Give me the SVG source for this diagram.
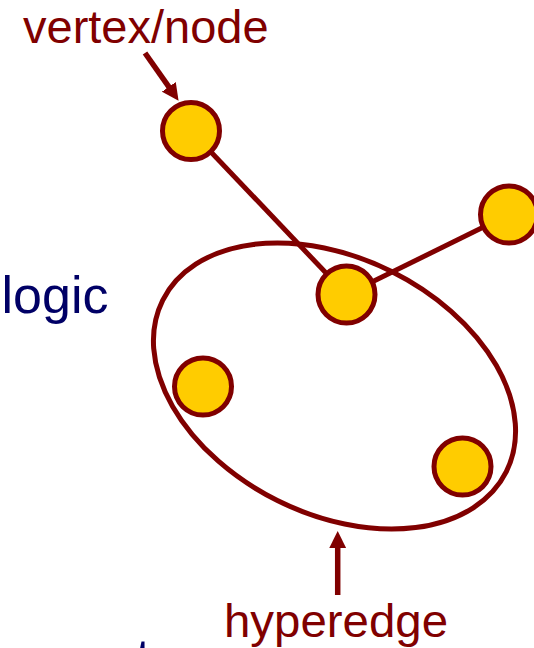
<svg xmlns="http://www.w3.org/2000/svg" width="534" height="648" viewBox="0 0 534 648">
<style>
.lbl{font-family:"Liberation Sans",Arial,sans-serif;fill:#800000;font-size:47px}
.blue{font-family:"Liberation Sans",Arial,sans-serif;fill:#000066;font-size:52px}
.edge{stroke:#800000;stroke-width:5;fill:none}
.arrow{stroke:#800000;stroke-width:5.5;fill:none}
.node{fill:#FFCC00;stroke:#800000;stroke-width:5}
</style>
<defs>
<marker id="head" markerUnits="userSpaceOnUse" markerWidth="17" markerHeight="17" refX="1" refY="8" orient="auto" viewBox="0 0 16 16">
<path d="M0,0 L16,8 L0,16 z" fill="#800000"/>
</marker>
</defs>
<rect width="534" height="648" fill="#ffffff"/>
<g id="hyperedge-ellipse">
<ellipse cx="334.5" cy="386" rx="192" ry="128" transform="rotate(26.5 334.5 386)" class="edge" stroke-width="4.5"/>
</g>
<g id="connectors">
<line x1="191" y1="131" x2="346.5" y2="294.5" class="edge"/>
<line x1="346.5" y1="294.5" x2="509" y2="214.5" class="edge"/>
<line x1="145" y1="53" x2="169.4" y2="87.7" class="arrow" marker-end="url(#head)"/>
<line x1="337.7" y1="595" x2="337.7" y2="547" class="arrow" marker-end="url(#head)"/>
</g>
<g id="node-a"><circle cx="191" cy="131" r="28.5" class="node"/></g>
<g id="node-b"><circle cx="509" cy="214.5" r="28.5" class="node"/></g>
<g id="node-c"><circle cx="346.5" cy="294.5" r="28.5" class="node"/></g>
<g id="node-d"><circle cx="203" cy="386.5" r="28.5" class="node"/></g>
<g id="node-e"><circle cx="462.5" cy="466.5" r="28.5" class="node"/></g>
<g id="labels">
<text x="23" y="42.5" class="lbl">vertex/node</text>
<text x="224" y="637" class="lbl" textLength="224" lengthAdjust="spacingAndGlyphs">hyperedge</text>
<text x="1.5" y="313" class="blue" textLength="107" lengthAdjust="spacingAndGlyphs">logic</text>
<text x="136" y="675" class="blue">t</text>
</g>
</svg>
